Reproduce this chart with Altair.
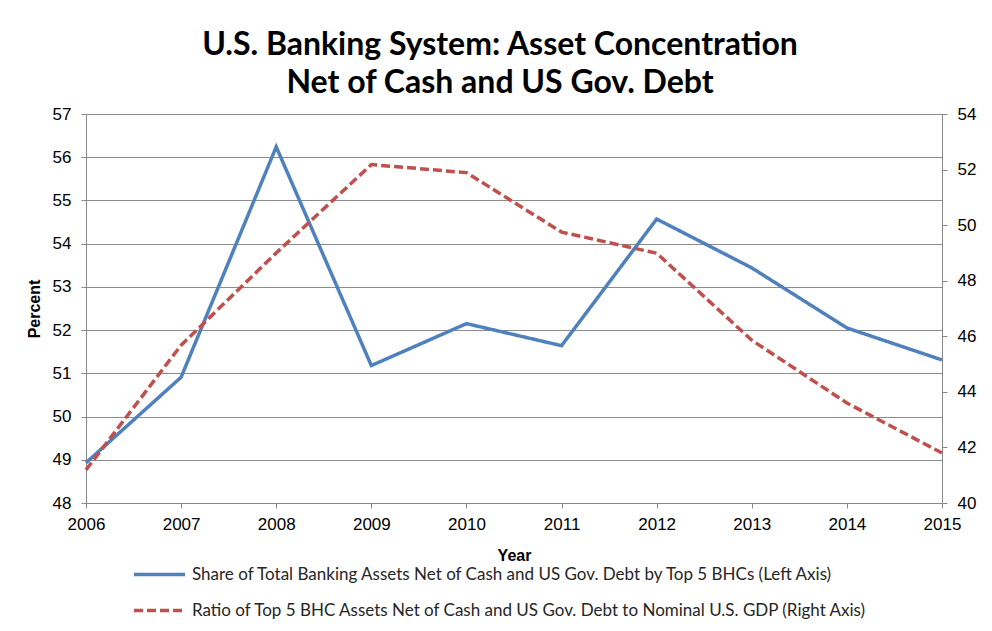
import altair as alt
import pandas as pd

years = [2006, 2007, 2008, 2009, 2010, 2011, 2012, 2013, 2014, 2015]
share = [48.93, 50.91, 56.24, 51.18, 52.15, 51.64, 54.57, 53.44, 52.05, 51.31]
ratio = [41.19, 45.68, 49.00, 52.18, 51.89, 49.75, 48.99, 45.86, 43.60, 41.80]

name_a = "Share of Total Banking Assets Net of Cash and US Gov. Debt by Top 5 BHCs (Left Axis)"
name_b = "Ratio of Top 5 BHC Assets Net of Cash and US Gov. Debt to Nominal U.S. GDP (Right Axis)"

df = pd.DataFrame({
    "year": years * 2,
    "value": share + ratio,
    "series": [name_a] * len(years) + [name_b] * len(years),
})

FONT = "Lato"
GRID = "#8c8c8c"
TXT = "#262626"

legend = alt.Legend(title=None, orient="none", legendX=46, legendY=433,
                    labelFontSize=17, labelFont=FONT, labelColor=TXT,
                    labelLimit=1000, symbolSize=2601, symbolStrokeWidth=3.5,
                    rowPadding=-16, labelOffset=5)

color = alt.Color("series:N",
                  scale=alt.Scale(domain=[name_a, name_b], range=["#4F81BD", "#C0504D"]),
                  legend=legend)
dash = alt.StrokeDash("series:N",
                      scale=alt.Scale(domain=[name_a, name_b], range=[[1, 0], [9, 4]]),
                      legend=legend)

x = alt.X("year:Q", scale=alt.Scale(domain=[2006, 2015], nice=False, zero=False),
          axis=alt.Axis(values=years, format="d", title="Year", grid=False,
                        labelFontSize=17, labelPadding=8, titlePadding=15,
                        labelFlush=False, labelBound=False, labelOverlap=False,
                        titleFontSize=16, titleFontWeight="bold", tickSize=5))

base = alt.Chart(df)

left = base.transform_filter(alt.datum.series == name_a).mark_line(strokeWidth=3.5).encode(
    x=x,
    y=alt.Y("value:Q", scale=alt.Scale(domain=[48, 57], nice=False, zero=False),
            axis=alt.Axis(orient="left", values=list(range(48, 58)), title="Percent",
                          grid=True, gridColor=GRID, labelFontSize=17, labelPadding=10,
                          titlePadding=10, titleFontSize=16, titleFontWeight="bold", tickSize=5)),
    color=color,
    strokeDash=dash,
)

right = base.transform_filter(alt.datum.series == name_b).mark_line(strokeWidth=3.5).encode(
    x=x,
    y=alt.Y("value:Q", scale=alt.Scale(domain=[40, 54], nice=False, zero=False),
            axis=alt.Axis(orient="right", values=list(range(40, 55, 2)), title=None,
                          grid=False, labelFontSize=17, labelPadding=10, tickSize=5)),
    color=color,
    strokeDash=dash,
)

chart = alt.layer(left, right).resolve_scale(y="independent").properties(
    width=856,
    height=389,
    padding={"left": 78, "top": 106, "right": 42, "bottom": 128},
    autosize=alt.AutoSizeParams(type="none"),
    title=alt.TitleParams(
        text=["U.S. Banking System: Asset Concentration", "Net of Cash and US Gov. Debt"],
        fontSize=32, fontWeight="bold", font=FONT, color="#000000",
        anchor="middle", offset=5, lineHeight=38, dx=-14),
).configure_view(stroke=None).configure_axis(
    domainColor=GRID, tickColor=GRID, labelFont=FONT, titleFont=FONT,
    labelColor=TXT, titleColor="#000000", domainWidth=1.5,
).configure(background="white")

chart.save("out.html", embed_options={"renderer": "svg", "actions": False})
